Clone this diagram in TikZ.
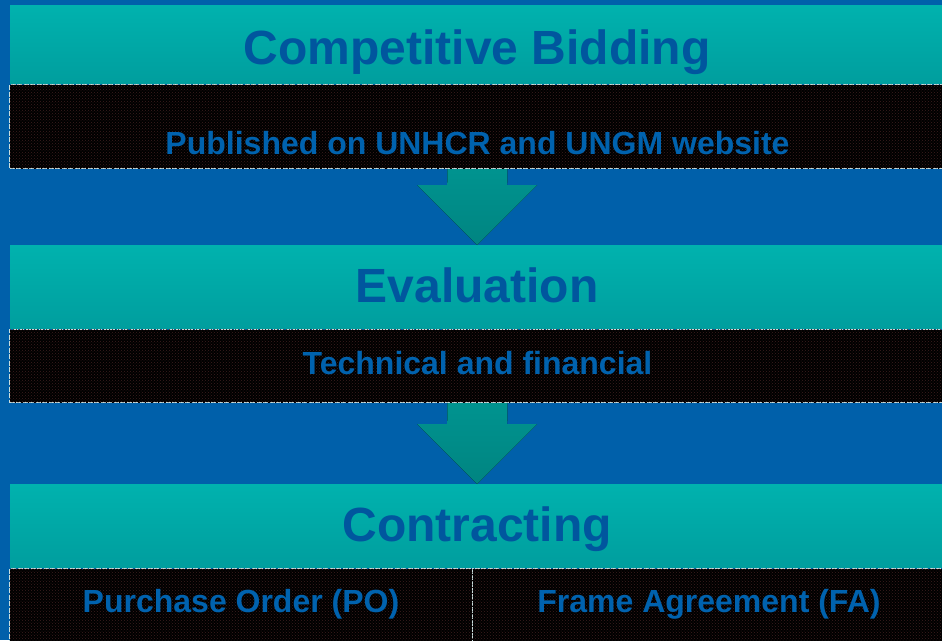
\documentclass[tikz,border=0pt]{standalone}
\usepackage{fontspec}
\setmainfont{Liberation Sans}
\usetikzlibrary{calc, patterns}

\definecolor{pageblue}{RGB}{0,96,170}
\definecolor{tealtop}{RGB}{0,178,174}
\definecolor{tealbot}{RGB}{0,158,158}
\definecolor{titleblue}{RGB}{0,86,158}
\definecolor{subblue}{RGB}{0,98,174}
\definecolor{arrowteal}{RGB}{0,144,140}
\definecolor{edgegray}{RGB}{200,222,222}
\definecolor{dotbrown}{RGB}{60,30,30}

\begin{document}
\begin{tikzpicture}[
    x=1pt, y=-1pt,
    every node/.style={font=\bfseries, align=center, inner ysep=0pt},
    titlebar/.style={rectangle, anchor=north west, top color=tealtop, bottom color=tealbot,
        minimum width=934pt, text=titleblue, font=\fontsize{48}{48}\selectfont\bfseries,
        text height=57pt, text depth=26pt},
    detailbox/.style={rectangle, anchor=north west, fill=black, postaction={pattern=crosshatch dots, pattern color=dotbrown},
        draw=edgegray, line width=1pt, dash pattern=on 5pt off 1.5pt,
        text=subblue, font=\fontsize{32}{32}\selectfont\bfseries},
    flowarrow/.style={top color=arrowteal!90!tealtop, bottom color=arrowteal!92!black}
]

\useasboundingbox (0,0) rectangle (942,640);
\clip (0,0) rectangle (942,640);
\fill[pageblue] (0,0) rectangle (942,640);

% ================= COMPETITIVE BIDDING =================
\node[titlebar, text height=59pt, text depth=19pt] (bidtitle) at (10,5) {Competitive Bidding};
\node[detailbox, minimum width=936pt, text height=70pt, text depth=14pt] (bidpub) at (9,84) {Published on UNHCR and UNGM website};

% ================= EVALUATION =================
\node[titlebar] (evaltitle) at (10,245) {Evaluation};
\node[detailbox, minimum width=936pt, text height=45pt, text depth=28pt] (evalpub) at (9,329) {Technical and financial};

% ================= CONTRACTING =================
\node[titlebar] (contracttitle) at (10,484) {Contracting};
\node[detailbox, minimum width=463pt, text height=44pt, text depth=31pt] (pobox) at (9,568) {Purchase Order (PO)};
\node[detailbox, minimum width=473pt, text height=44pt, text depth=31pt] (fabox) at (472,568) {Frame Agreement (FA)};

% block arrows between the steps
\foreach \from/\to in {bidpub/evaltitle, evalpub/contracttitle}
    \fill[flowarrow] ($(\from.south)+(-30,0)$) -- ($(\from.south)+(30,0)$)
        -- ($(\to.north)+(30,-60)$) -- ($(\to.north)+(60,-60)$) -- (\to.north)
        -- ($(\to.north)+(-60,-60)$) -- ($(\to.north)+(-30,-60)$) -- cycle;

\end{tikzpicture}
\end{document}
